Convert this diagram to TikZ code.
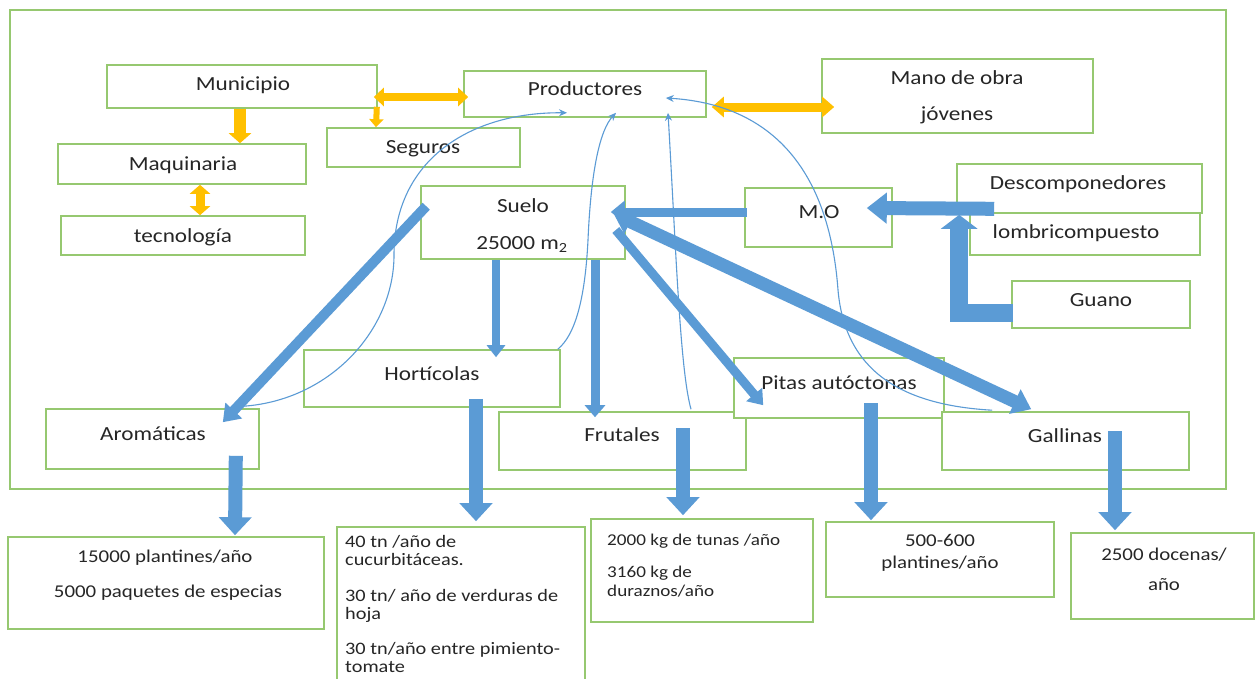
\documentclass[tikz,border=0pt]{standalone}
\usepackage{fontspec}
\setmainfont{Carlito}[FakeStretch=1.16]
\usetikzlibrary{arrows.meta,fit}
\definecolor{bgreen}{RGB}{150,200,112}
\definecolor{ablue}{RGB}{91,155,213}
\definecolor{ayel}{RGB}{255,192,0}
\definecolor{tgray}{RGB}{38,38,38}
\begin{document}
\begin{tikzpicture}[x=1pt,y=-1pt,
  box/.style={draw=bgreen, line width=1.6pt, fill=white, inner sep=0pt},
  txt/.style={inner sep=0pt, yshift=-5pt, text=tgray, font=\fontsize{20}{24}\selectfont, text height=0.7em, text depth=0.2em},
  btxt/.style={inner sep=0pt, yshift=-5pt, text=tgray, font=\fontsize{18}{22}\selectfont, text height=0.7em, text depth=0.2em},
  ctxt/.style={inner sep=0pt, yshift=-5pt, text=tgray, font=\fontsize{17.5}{18}\selectfont, text height=0.7em, text depth=0.2em, anchor=west},
  dtxt/.style={inner sep=0pt, yshift=-5pt, text=tgray, font=\fontsize{16.5}{19}\selectfont, text height=0.7em, text depth=0.2em, anchor=west},
  yarr/.style args={#1/#2/#3}{draw=ayel, line width=#1pt, -{Triangle[width=#2pt,length=#3pt]}},
  ydarr/.style args={#1/#2/#3}{draw=ayel, line width=#1pt, {Triangle[width=#2pt,length=#3pt]}-{Triangle[width=#2pt,length=#3pt]}},
  fat/.style args={#1/#2/#3}{draw=ablue, line width=#1pt, -{Triangle[width=#2pt,length=#3pt]}},
  dfat/.style args={#1/#2/#3}{draw=ablue, line width=#1pt, {Triangle[width=#2pt,length=#3pt]}-{Triangle[width=#2pt,length=#3pt]}},
  thin/.style={draw=ablue, line width=1.1pt, -{Stealth[width=7pt,length=8pt]}}
]
\useasboundingbox (0,0) rectangle (1256,678);
\fill[white] (0,0) rectangle (1256,678);
% outer frame
\node[box, fill=none, fit={(10,10)(1226,489)}] (frame) {};

% boxes
\node[box, fit={(107,65)(377,108)}] (mun) {};
\node[box, fit={(464,71)(706,117)}] (prod) {};
\node[box, fit={(822,59)(1093,133)}] (mano) {};
\node[box, fit={(327,128)(520,167)}] (seg) {};
\node[box, fit={(58,144)(306,184)}] (maq) {};
\node[box, fit={(61,216)(305,255)}] (tec) {};
\node[box, fit={(421,186)(625,259)}] (suelo) {};
\node[box, fit={(745,188)(892,247)}] (mo) {};
\node[box, fit={(970,213)(1200,255)}] (lomb) {};
\node[box, fit={(957,164)(1202,213)}] (desc) {};
\node[box, fit={(1012,281)(1190,328)}] (guano) {};
\node[box, fit={(304,350)(560,407)}] (hort) {};
\node[box, fit={(46,409)(259,469)}] (arom) {};
\node[box, fit={(499,412)(746,470)}] (frut) {};
\node[box, fit={(734,358)(944,418)}] (pitas) {};
\node[box, fit={(942,412)(1189,470)}] (gall) {};
\node[box, fit={(8,537)(324,629)}] (b1) {};
\node[box, fit={(337,527)(585,700)}] (b2) {};
\node[box, fit={(591,519)(813,622)}] (b3) {};
\node[box, fit={(826,522)(1054,597)}] (b4) {};
\node[box, fit={(1071,533)(1254,619)}] (b5) {};

% texts
\node[txt] (mun-t) at (243,83) {Municipio};
\node[txt] (prod-t) at (585,88) {Productores};
\node[txt] (mano-t1) at (957,77) {Mano de obra};
\node[txt] (mano-t2) at (957,113) {jóvenes};
\node[txt] (seg-t) at (423,146) {Seguros};
\node[txt] (maq-t) at (183,163) {Maquinaria};
\node[txt] (tec-t) at (183,235) {tecnología};
\node[txt] (suelo-t1) at (523,205) {Suelo};
\node[txt] (suelo-t2) at (522,242) {25000 m\textsubscript{2}};
\node[txt] (mo-t) at (819,211) {M.O};
\node[txt] (desc-t) at (1078,182) {Descomponedores};
\node[txt] (lomb-t) at (1076,231) {lombricompuesto};
\node[txt] (guano-t) at (1101,299) {Guano};
\node[txt] (hort-t) at (432,373) {Hortícolas};
\node[txt] (arom-t) at (153,433) {Aromáticas};
\node[txt] (frut-t) at (622,434) {Frutales};
\node[txt] (pitas-t) at (839,382) {Pitas autóctonas};
\node[txt] (gall-t) at (1065,435) {Gallinas};

\node[btxt] (b1-t1) at (165,555) {15000 plantines/año};
\node[btxt] (b1-t2) at (168,590) {5000 paquetes de especias};

\node[ctxt] (b2-t1) at (345,540) {40 tn /año de};
\node[ctxt] (b2-t2) at (345,558) {cucurbitáceas.};
\node[ctxt] (b2-t3) at (345,594) {30 tn/ año de verduras de};
\node[ctxt] (b2-t4) at (345,612) {hoja};
\node[ctxt] (b2-t5) at (345,647) {30 tn/año entre pimiento-};
\node[ctxt] (b2-t6) at (345,665) {tomate};

\node[dtxt] (b3-t1) at (607,538) {2000 kg de tunas /año};
\node[dtxt] (b3-t2) at (607,570) {3160 kg de};
\node[dtxt] (b3-t3) at (607,589) {duraznos/año};

\node[btxt] (b4-t1) at (940,539) {500-600};
\node[btxt] (b4-t2) at (940,561) {plantines/año};

\node[btxt] (b5-t1) at (1164,553) {2500 docenas/};
\node[btxt] (b5-t2) at (1164,583) {año};

% yellow arrows
\draw[ydarr=8/18/10] ([xshift=-4pt,yshift=-10.5pt]mun.east) -- ([xshift=5pt,yshift=-3pt]prod.west);
\draw[yarr=6/14/8] ([xshift=-1pt,yshift=2pt]mun.south east) -- ([xshift=-47.5pt]seg.north);
\draw[yarr=12/22/10] ([xshift=-2pt]mun.south) -- ([xshift=58pt]maq.north);
\draw[ydarr=9/20/9] ([xshift=18pt]maq.south) -- ([xshift=17pt]tec.north);
\draw[ydarr=9/20/12] ([xshift=5pt,yshift=-13pt]prod.east) -- ([xshift=13pt,yshift=-11pt]mano.west);

% blue thick arrows
\draw[fat=14/30/20] ([xshift=38pt,yshift=5pt]desc.south west) -- ([xshift=-26pt,yshift=9.5pt]mo.east);
\draw[fat=18/36/14, line join=miter] ([xshift=2pt,yshift=-8.5pt]guano.west) -| ([xshift=3pt,yshift=-1pt]desc.south west);
\draw[fat=9/22/14] ([xshift=3pt,yshift=5.5pt]mo.west) -- ([xshift=-15pt,yshift=10.5pt]suelo.east);
\draw[dfat=13/26/18] ([xshift=-12pt,yshift=8.5pt]suelo.east) -- ([xshift=90pt,yshift=2pt]gall.north west);
\draw[fat=10/22/16] ([xshift=6pt,yshift=-21pt]suelo.north west) -- ([xshift=-37pt,yshift=-14pt]arom.north east);
\draw[fat=8/18/12] ([xshift=-27pt]suelo.south) -- ([xshift=64pt,yshift=-8pt]hort.north);
\draw[fat=9/20/12] ([xshift=72pt]suelo.south) -- ([xshift=-27.5pt,yshift=-6pt]frut.north);
\draw[fat=9/20/14] ([xshift=-10pt,yshift=-7.5pt]suelo.east) -- ([xshift=30pt,yshift=-48pt]pitas.north west);

\draw[fat=14/32/18] ([xshift=-24pt,yshift=14pt]arom.south east) -- ([xshift=69pt,yshift=1pt]b1.north);
\draw[fat=14/32/18] ([xshift=44pt,yshift=9pt]hort.south) -- ([xshift=15pt,yshift=5pt]b2.north);
\draw[fat=14/32/18] ([xshift=60.5pt,yshift=-17pt]frut.north) -- ([xshift=-19pt,yshift=3pt]b3.north);
\draw[fat=14/32/18] ([xshift=32pt,yshift=-46pt]pitas.north) -- ([xshift=-69pt,yshift=1pt]b4.north);
\draw[fat=14/32/18] ([xshift=49.5pt,yshift=-20pt]gall.north) -- ([xshift=-47.5pt,yshift=2pt]b5.north);

% thin curved arrows to Productores
\draw[thin] ([xshift=-16pt,yshift=2pt]arom.north east) .. controls (330,400) and (394,330) .. (394,255) .. controls (394,160) and (470,112) .. ([xshift=-18pt,yshift=5pt]prod.south);
\draw[thin] ([xshift=-3pt]hort.north east) .. controls (575,335) and (585,300) .. (588,240) .. controls (591,170) and (600,130) .. ([xshift=31pt,yshift=5pt]prod.south);
\draw[thin] ([xshift=68.5pt,yshift=2pt]frut.north) .. controls (680,370) and (676,250) .. ([xshift=83pt,yshift=5pt]prod.south);
\draw[thin] ([xshift=51pt,yshift=1pt]gall.north west) .. controls (900,405) and (845,370) .. (838,290) .. controls (830,180) and (780,105) .. ([xshift=-41pt,yshift=-4pt]prod.east);
\end{tikzpicture}
\end{document}
